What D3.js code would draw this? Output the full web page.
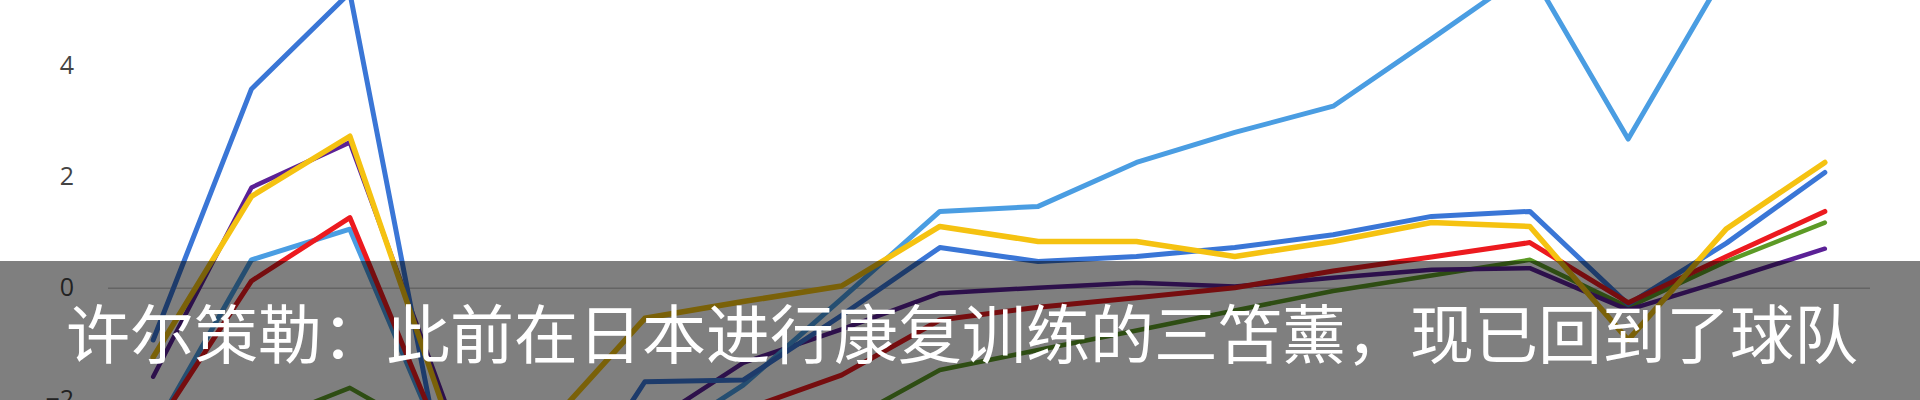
<!DOCTYPE html>
<html>
<head>
<meta charset="utf-8">
<script src="https://cdn.jsdelivr.net/npm/d3@7"></script>
<style>
  html, body { margin: 0; padding: 0; background: #fff; overflow: hidden; }
  svg { display: block; }
</style>
</head>
<body>
<svg id="chart" width="1920" height="400"></svg>
<script>
// ---- data ----
const categories = ["1","2","3","4","5","6","7","8","9","10","11","12","13","14","15","16","17","18"];
const yTicks = [-2, 0, 2, 4];

const greenSeries     = [-2.9, -2.5, -1.8, -2.8, -3.3, -3.2, -2.9, -2.45, -1.48, -1.12, -0.77, -0.41, -0.06, 0.22, 0.5, -0.35, 0.47, 1.17];
const purpleSeries    = [-1.6, 1.8, 2.61, -2.2, -3.0, -2.5, -1.35, -0.75, -0.1, 0.0, 0.09, 0.02, 0.18, 0.32, 0.35, -0.4, 0.14, 0.7];
const lightBlueSeries = [-2.6, 0.5, 1.05, -3.1, -3.4, -2.9, -1.75, -0.2, 1.37, 1.46, 2.25, 2.79, 3.26, 4.47, 5.7, 2.67, 5.7, 6.0];
const darkBlueSeries  = [-0.94, 3.57, 5.3, -3.8, -4.4, -1.69, -1.66, -0.5, 0.72, 0.47, 0.56, 0.72, 0.95, 1.28, 1.37, -0.3, 0.8, 2.07];
const redSeries       = [-2.58, 0.12, 1.26, -3.0, -3.2, -2.8, -2.2, -1.57, -0.58, -0.35, -0.18, 0.0, 0.3, 0.55, 0.81, -0.27, 0.56, 1.37];
const yellowSeries    = [-1.25, 1.64, 2.72, -2.4, -2.5, -0.55, -0.25, 0.03, 1.10, 0.83, 0.83, 0.56, 0.83, 1.17, 1.1, -0.94, 1.06, 2.25];

const seriesNames  = ["green", "purple", "lightBlue", "darkBlue", "red", "yellow"];
const seriesValues = [greenSeries, purpleSeries, lightBlueSeries, darkBlueSeries, redSeries, yellowSeries];
const seriesColors = ["#5c9a26", "#5b2196", "#4a9de2", "#3a76d6", "#ec1a1f", "#f5c211"];
const seriesWidths = [4.5, 4.5, 5, 5, 5, 5.5];

const caption = "许尔策勒：此前在日本进行康复训练的三笘薰，现已回到了球队";

// ---- layout ----
const W = 1920, H = 400;
const plotLeft = 104, plotRight = 1874;
const svg = d3.select("#chart");

const x = d3.scalePoint().domain(categories).range([plotLeft, plotRight]).padding(0.5);
const y = d3.scaleLinear().domain([-2, 4]).range([399, 65]);

// zero grid line
svg.append("g")
  .attr("transform", `translate(${plotLeft + 4},0)`)
  .call(d3.axisLeft(y).tickValues([0]).tickSize(-(plotRight - plotLeft - 8)).tickFormat(""))
  .call(g => g.select(".domain").remove())
  .call(g => g.selectAll("line").attr("stroke", "#c8c8c8").attr("stroke-width", 1.5));

// y axis labels
svg.append("g")
  .attr("transform", `translate(76,0)`)
  .call(d3.axisLeft(y).tickValues(yTicks).tickSize(0).tickPadding(2).tickFormat(d3.format("d")))
  .call(g => g.select(".domain").remove())
  .call(g => g.selectAll("text")
    .attr("fill", "#444444")
    .attr("font-family", "'Open Sans', 'Noto Sans', sans-serif")
    .attr("font-size", 25));

// lines
const line = d3.line()
  .x((d, i) => x(categories[i]))
  .y(d => y(d));

svg.append("g").selectAll("path")
  .data(seriesValues)
  .join("path")
  .attr("d", d => line(d))
  .attr("fill", "none")
  .attr("stroke", (d, i) => seriesColors[i])
  .attr("stroke-width", (d, i) => seriesWidths[i])
  .attr("stroke-linejoin", "round")
  .attr("stroke-linecap", "round");

// caption band
svg.append("rect")
  .attr("x", 0).attr("y", 261)
  .attr("width", W).attr("height", H - 261)
  .attr("fill", "rgba(0,0,0,0.5)");

svg.append("text")
  .attr("x", W / 2 + 2).attr("y", 358)
  .attr("text-anchor", "middle")
  .attr("fill", "#ffffff")
  .attr("font-family", "'Noto Sans CJK SC', 'Noto Sans', sans-serif")
  .attr("font-size", 64)
  .text(caption);
</script>
</body>
</html>
